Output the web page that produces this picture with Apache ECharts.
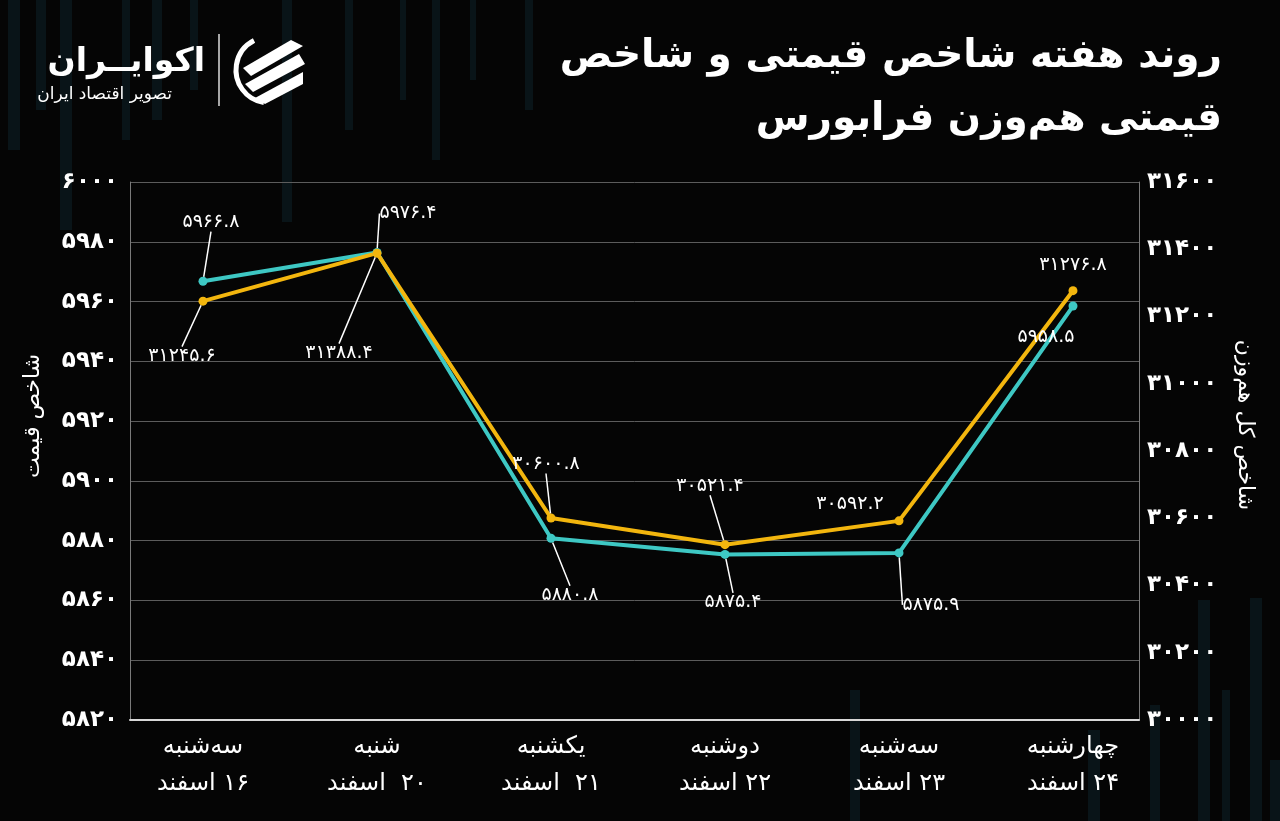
<!DOCTYPE html>
<html>
<head>
<meta charset="utf-8">
<script src="https://cdn.jsdelivr.net/npm/echarts@6/dist/echarts.min.js"></script>
<style>
  html, body { margin: 0; padding: 0; background: #050505; }
  #chart { width: 1280px; height: 821px; }
</style>
</head>
<body>
<div id="chart" dir="rtl"></div>
<script>
// روزها و تاریخ‌ها
var days = ['سه‌شنبه', 'شنبه', 'یکشنبه', 'دوشنبه', 'سه‌شنبه', 'چهارشنبه'];
var dates = ['۱۶ اسفند', '۲۰  اسفند', '۲۱  اسفند', '۲۲ اسفند', '۲۳ اسفند', '۲۴ اسفند'];

// شاخص قیمت (محور چپ)
var priceIndex = [5966.8, 5976.4, 5880.8, 5875.4, 5875.9, 5958.5];
// شاخص کل هم‌وزن (محور راست)
var equalIndex = [31245.6, 31388.4, 30600.8, 30521.4, 30592.2, 31276.8];

// تیک‌های محورها
var leftTicks = { min: 5820, max: 6000, step: 20 };
var rightTicks = { min: 30000, max: 31600, step: 200 };

// جابجایی برچسب‌ها نسبت به نقطه (dx, dy) و خط راهنما
var priceShift = [[8, -40], [31, -20], [19, 76], [8, 67], [32, 71], [-27, 50]];
var priceGuide = [1, 1, 1, 1, 1, 0];
var equalShift = [[-21, 74], [-38, 119], [-5, -35], [-15, -40], [-49, 2], [0, -7]];
var equalGuide = [1, 1, 1, 1, 0, 0];

var CYAN = '#3ec8c4';
var YELLOW = '#f3b60e';
var FONT = 'DejaVu Sans';

function toFa(v) {
    return String(v).replace(/\d/g, function (d) { return '۰۱۲۳۴۵۶۷۸۹'[d]; });
}

function buildData(values, guide) {
    return values.map(function (v, i) {
        return { value: [i, v], labelLine: { show: !!guide[i] } };
    });
}

// نوارهای کم‌رنگ پس‌زمینه
var bars = [
    [8, 0, 12, 150], [36, 0, 10, 110], [60, 0, 12, 230], [122, 0, 8, 140], [152, 0, 10, 120],
    [190, 0, 8, 90], [282, 0, 10, 222], [345, 0, 8, 130], [400, 0, 6, 100], [432, 0, 8, 160],
    [470, 0, 6, 80], [525, 0, 8, 110],
    [850, 690, 10, 131], [1088, 730, 12, 91], [1150, 705, 10, 116], [1198, 600, 12, 221],
    [1222, 690, 8, 131], [1250, 598, 12, 223], [1270, 760, 10, 61]
];
var decor = bars.map(function (b) {
    return { type: 'rect', silent: true, z: -10, shape: { x: b[0], y: b[1], width: b[2], height: b[3] },
             style: { fill: 'rgba(18,52,66,0.32)' } };
});

var chartDom = document.getElementById('chart');
var myChart = echarts.init(chartDom);

var option = {
    backgroundColor: '#050505',
    textStyle: { fontFamily: FONT },
    title: {
        text: 'روند هفته شاخص قیمتی و شاخص\nقیمتی هم‌وزن فرابورس',
        left: 1222,
        top: 25,
        textAlign: 'right',
        padding: 0,
        textStyle: { color: '#ffffff', fontSize: 39, fontWeight: 'bold', lineHeight: 63, fontFamily: FONT }
    },
    graphic: decor.concat([
        { type: 'text', style: { x: 205, y: 62, text: 'اکوایــران', fill: '#fff', font: 'bold 33px "DejaVu Sans"', textAlign: 'right', textVerticalAlign: 'middle' } },
        { type: 'text', style: { x: 172, y: 95, text: 'تصویر اقتصاد ایران', fill: '#fff', font: '17px "DejaVu Sans"', textAlign: 'right', textVerticalAlign: 'middle' } },
        { type: 'line', shape: { x1: 219, y1: 34, x2: 219, y2: 106 }, style: { stroke: '#ddd', lineWidth: 1.5 } },
        {
            type: 'group', x: 233, y: 34,
            children: [
                { type: 'arc', shape: { cx: 36, cy: 36, r: 33, startAngle: Math.PI * 0.55, endAngle: Math.PI * 1.35 },
                  style: { stroke: '#fff', lineWidth: 5, fill: null } },
                { type: 'polygon', shape: { points: [[10, 34], [58, 6], [70, 12], [18, 42]] }, style: { fill: '#fff' } },
                { type: 'polygon', shape: { points: [[12, 50], [66, 20], [72, 30], [20, 58]] }, style: { fill: '#fff' } },
                { type: 'polygon', shape: { points: [[22, 64], [70, 38], [70, 50], [32, 70]] }, style: { fill: '#fff' } }
            ]
        }
    ]),
    grid: { left: 130, right: 141, top: 182, bottom: 101 },
    xAxis: {
        type: 'value',
        min: -0.4195,
        max: 5.3794,
        splitLine: { show: false },
        axisTick: { show: false },
        axisLine: { show: true, lineStyle: { color: '#d8d8d8', width: 2 } },
        axisLabel: {
            customValues: [0, 1, 2, 3, 4, 5],
            margin: 8,
            color: '#ffffff',
            fontSize: 24,
            lineHeight: 37,
            fontFamily: FONT,
            formatter: function (v) {
                var i = Math.round(v);
                return days[i] + '\n' + dates[i];
            }
        }
    },
    yAxis: [
        {
            type: 'value',
            position: 'left',
            min: leftTicks.min,
            max: leftTicks.max,
            interval: leftTicks.step,
            name: 'شاخص قیمت',
            nameLocation: 'middle',
            nameRotate: 90,
            nameGap: 86,
            nameTextStyle: { color: '#fff', fontSize: 22, fontFamily: FONT, padding: [0, 0, 0, 70] },
            axisLine: { show: true, onZero: false, lineStyle: { color: '#7a7a7a', width: 1 } },
            axisTick: { show: false },
            splitLine: { show: true, lineStyle: { color: '#5c5c5c', width: 1 } },
            axisLabel: {
                color: '#fff', fontSize: 23, fontWeight: 'bold', margin: 12, fontFamily: FONT,
                formatter: function (v) { return toFa(v); }
            }
        },
        {
            type: 'value',
            position: 'right',
            min: rightTicks.min,
            max: rightTicks.max,
            interval: rightTicks.step,
            name: 'شاخص کل هم‌وزن',
            nameLocation: 'middle',
            nameRotate: -90,
            nameGap: 95,
            nameTextStyle: { color: '#fff', fontSize: 22, fontFamily: FONT, padding: [0, 52, 0, 0] },
            axisLine: { show: true, onZero: false, lineStyle: { color: '#7a7a7a', width: 1 } },
            axisTick: { show: false },
            splitLine: { show: false },
            axisLabel: {
                color: '#fff', fontSize: 23, fontWeight: 'bold', margin: 8, fontFamily: FONT,
                formatter: function (v) { return toFa(v); }
            }
        }
    ],
    series: [
        {
            name: 'شاخص قیمت',
            type: 'line',
            yAxisIndex: 0,
            data: buildData(priceIndex, priceGuide),
            symbol: 'circle',
            symbolSize: 9,
            lineStyle: { color: CYAN, width: 4 },
            itemStyle: { color: CYAN },
            label: {
                show: true, position: 'top', color: '#fff', fontSize: 19, fontFamily: FONT,
                formatter: function (p) { return toFa(p.value[1].toFixed(1)); }
            },
            labelLine: { show: true, lineStyle: { color: '#fff', width: 1.5 } },
            labelLayout: function (p) {
                var s = priceShift[p.dataIndex];
                return { dx: s[0], dy: s[1] };
            }
        },
        {
            name: 'شاخص کل هم‌وزن',
            type: 'line',
            yAxisIndex: 1,
            data: buildData(equalIndex, equalGuide),
            symbol: 'circle',
            symbolSize: 9,
            lineStyle: { color: YELLOW, width: 4 },
            itemStyle: { color: YELLOW },
            label: {
                show: true, position: 'top', color: '#fff', fontSize: 19, fontFamily: FONT,
                formatter: function (p) { return toFa(p.value[1].toFixed(1)); }
            },
            labelLine: { show: true, lineStyle: { color: '#fff', width: 1.5 } },
            labelLayout: function (p) {
                var s = equalShift[p.dataIndex];
                return { dx: s[0], dy: s[1] };
            }
        }
    ]
};

myChart.setOption(option);
window.onresize = function () {
    myChart.resize();
};
</script>
</body>
</html>
